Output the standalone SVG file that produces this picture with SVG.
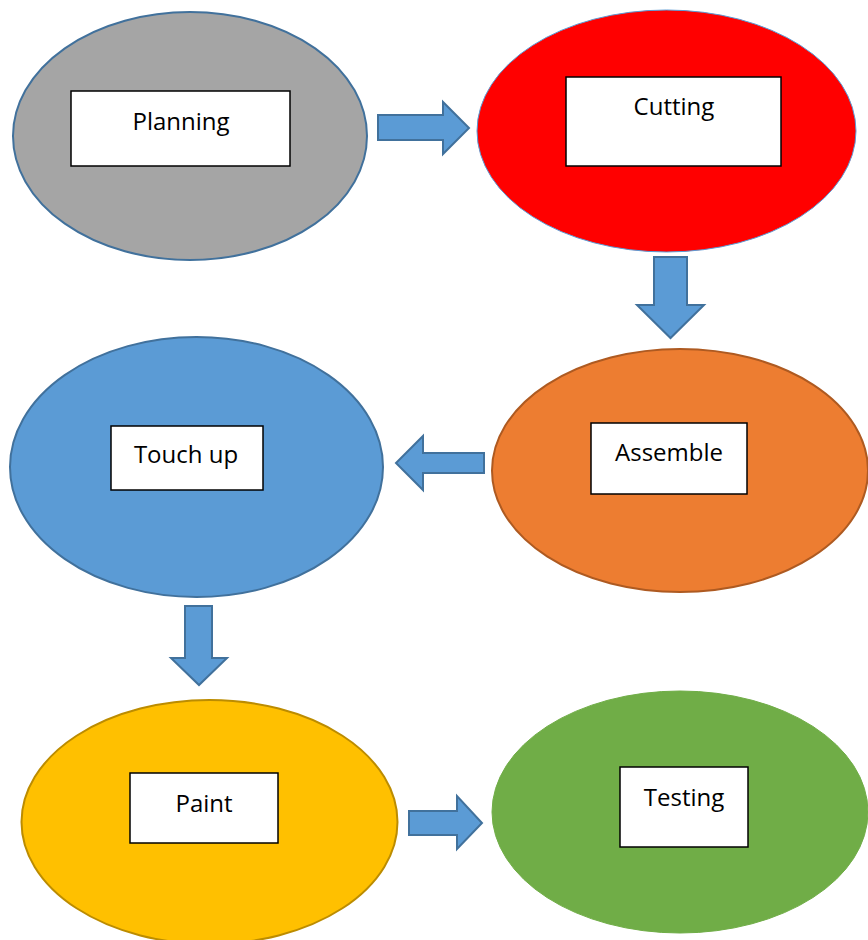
<svg xmlns="http://www.w3.org/2000/svg" width="868" height="940" viewBox="0 0 868 940">
<style>
.box{fill:#fff;stroke:#000;stroke-width:1.5}
.lbl{font-family:"Open Sans","Liberation Sans",sans-serif;font-size:24px;fill:#000;text-anchor:middle}
.arr{fill:#5b9bd5;stroke:#41719c;stroke-width:2;stroke-linejoin:miter}
</style>
<rect width="868" height="940" fill="#fff"/>
<g id="planning">
<ellipse cx="190" cy="136" rx="177" ry="124" fill="#a5a5a5" stroke="#41719c" stroke-width="2"/>
<rect class="box" x="71" y="91" width="219" height="75"/>
<text class="lbl" x="181" y="130">Planning</text>
</g>
<g id="cutting">
<ellipse cx="666.5" cy="131" rx="189.5" ry="121" fill="#ff0000" stroke="#5b9bd5" stroke-width="1"/>
<rect class="box" x="566" y="77" width="215" height="89"/>
<text class="lbl" x="674" y="115">Cutting</text>
</g>
<g id="touchup">
<ellipse cx="196.5" cy="467" rx="186.5" ry="130" fill="#5b9bd5" stroke="#41719c" stroke-width="2"/>
<rect class="box" x="111" y="426" width="152" height="64"/>
<text class="lbl" x="186" y="463">Touch up</text>
</g>
<g id="assemble">
<ellipse cx="680" cy="470.5" rx="188" ry="121.5" fill="#ed7d31" stroke="#ae5a21" stroke-width="2"/>
<rect class="box" x="591" y="423" width="156" height="71"/>
<text class="lbl" x="669" y="461">Assemble</text>
</g>
<g id="paint">
<ellipse cx="209.5" cy="822" rx="188" ry="122" fill="#ffc000" stroke="#bc8c00" stroke-width="2"/>
<rect class="box" x="130" y="773" width="148" height="70"/>
<text class="lbl" x="204" y="812">Paint</text>
</g>
<g id="testing">
<ellipse cx="680" cy="812" rx="188" ry="121" fill="#70ad47" stroke="#70ad47" stroke-width="1"/>
<rect class="box" x="620" y="767" width="128" height="80"/>
<text class="lbl" x="684" y="806">Testing</text>
</g>
<g id="connectors">
<path class="arr" d="M378 115 H443 V102 L469 128 L443 154 V140 H378 Z"/>
<path class="arr" d="M654 257 H687 V305 H704 L670.5 338 L637 305 H654 Z"/>
<path class="arr" d="M484 453 V473 H423 V490 L396 463 L423 436 V453 Z"/>
<path class="arr" d="M185 606 H212 V658 H227 L199 685 L171 658 H185 Z"/>
<path class="arr" d="M409 811 H457 V796 L482 823 L457 849 V835 H409 Z"/>
</g>
</svg>
